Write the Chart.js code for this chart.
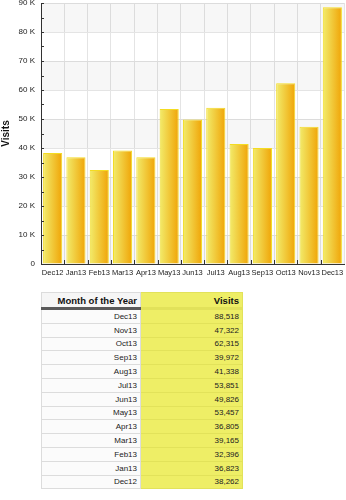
<!DOCTYPE html>
<html>
<head>
<meta charset="utf-8">
<script src="https://cdn.jsdelivr.net/npm/chart.js@4"></script>
<style>
  body { margin: 0; background: #fff; font-family: "Liberation Sans", Arial, sans-serif; }
  #wrap { position: relative; width: 346px; height: 280px; }
  table { position: absolute; left: 41px; top: 292px; width: 202px; border-collapse: collapse; font-size: 8px; color: #222; }
  th, td { text-align: right; padding: 0 3px; border: 1px solid #dcdcdc; }
  th { height: 14px; font-size: 9.5px; font-weight: bold; background: #f6f6f6; border-bottom: 3px solid #5a5a5a; color: #111; }
  td { height: 12.8px; background: #fbfbfb; }
  .vis { background: #eeee66; border-color: #e2e25a; width: 95px; }
</style>
</head>
<body>
<div id="wrap"><canvas id="chart"></canvas></div>
<table id="tbl"></table>
<script>
const months = ['Dec12', 'Jan13', 'Feb13', 'Mar13', 'Apr13', 'May13', 'Jun13', 'Jul13', 'Aug13', 'Sep13', 'Oct13', 'Nov13', 'Dec13']
const visits = [38262, 36823, 32396, 39165, 36805, 53457, 49826, 53851, 41338, 39972, 62315, 47322, 88518]
const yTicks = [0, 10000, 20000, 30000, 40000, 50000, 60000, 70000, 80000, 90000]
const barPct = 0.82

// table under the chart, newest first
const tbl = document.getElementById('tbl')
let html = '<tr><th>Month of the Year</th><th class="vis">Visits</th></tr>'
for (let i = months.length - 1; i >= 0; i--) {
    html += '<tr><td>' + months[i] + '</td><td class="vis">' + visits[i].toLocaleString('en-US') + '</td></tr>'
}
tbl.innerHTML = html

const bands = {
    id: 'bands',
    beforeDatasetsDraw(chart) {
        const { ctx, chartArea: a, scales: { y } } = chart
        ctx.save()
        for (let i = 0; i < yTicks.length - 1; i++) {
            if ((yTicks.length - 2 - i) % 2 !== 0) continue
            const top = y.getPixelForValue(yTicks[i + 1])
            const bot = y.getPixelForValue(yTicks[i])
            ctx.fillStyle = 'rgba(0,0,0,0.03)'
            ctx.fillRect(a.left, top, a.right - a.left, bot - top)
        }
        ctx.restore()
    },
    afterDraw(chart) {
        const { ctx, chartArea: a, scales: { x, y } } = chart
        ctx.save()
        ctx.strokeStyle = '#333'
        ctx.lineWidth = 1
        ctx.beginPath()
        for (let v = 5000; v <= 90000; v += 5000) {
            const py = Math.round(y.getPixelForValue(v)) + 0.5
            ctx.moveTo(a.left, py)
            ctx.lineTo(a.left + 3, py)
        }
        const step = (a.right - a.left) / months.length
        for (let i = 1; i < months.length; i++) {
            const px = Math.round(x.getPixelForValue(i) - step / 2) + 0.5
            ctx.moveTo(px, a.bottom)
            ctx.lineTo(px, a.bottom - 4)
        }
        ctx.stroke()
        ctx.restore()
    }
}

function barGradient(c) {
    const chart = c.chart
    const x = chart.scales.x
    if (!x || !chart.chartArea) return '#f2c82a'
    const cx = x.getPixelForValue(c.dataIndex)
    const half = (x.width / months.length) * barPct / 2
    const g = chart.ctx.createLinearGradient(cx - half, 0, cx + half, 0)
    g.addColorStop(0, '#f2ec6c')
    g.addColorStop(1, '#f0a406')
    return g
}

new Chart(document.getElementById('chart'), {
    type: 'bar',
    data: {
        labels: months,
        datasets: [{
            label: 'Visits',
            data: visits,
            backgroundColor: barGradient,
            borderColor: '#f4dc22',
            borderWidth: 1,
            borderSkipped: 'bottom',
            barPercentage: barPct,
            categoryPercentage: 1
        }]
    },
    options: {
        responsive: true,
        maintainAspectRatio: false,
        animation: false,
        layout: { padding: { top: 3, right: 2, left: 0, bottom: 0 } },
        plugins: { legend: { display: false }, tooltip: { enabled: false } },
        scales: {
            x: {
                afterFit: s => { s.height = 16; s.paddingLeft = 0; s.paddingRight = 0 },
                grid: { color: '#e4e4e4', drawTicks: false },
                border: { color: '#333' },
                ticks: { color: '#222', font: { size: 7.5, family: '"Liberation Sans", Arial' }, padding: 4, maxRotation: 0, autoSkip: false }
            },
            y: {
                min: 0,
                max: 90000,
                afterFit: s => { s.width = 41; s.paddingTop = 0; s.paddingBottom = 0 },
                grid: { color: c => c.tick.value % 10000 ? 'rgba(0,0,0,0)' : '#e4e4e4', drawTicks: false },
                border: { color: '#333' },
                title: { display: true, text: 'Visits', color: '#111', font: { size: 10, weight: 'bold', family: '"Liberation Sans", Arial' }, padding: 0 },
                ticks: {
                    stepSize: 5000,
                    autoSkip: false,
                    color: '#222',
                    padding: 6,
                    font: { size: 8, family: '"Liberation Sans", Arial' },
                    callback: v => v % 10000 ? '' : (v === 0 ? '0' : v / 1000 + ' K')
                }
            }
        }
    },
    plugins: [bands]
})
</script>
</body>
</html>
